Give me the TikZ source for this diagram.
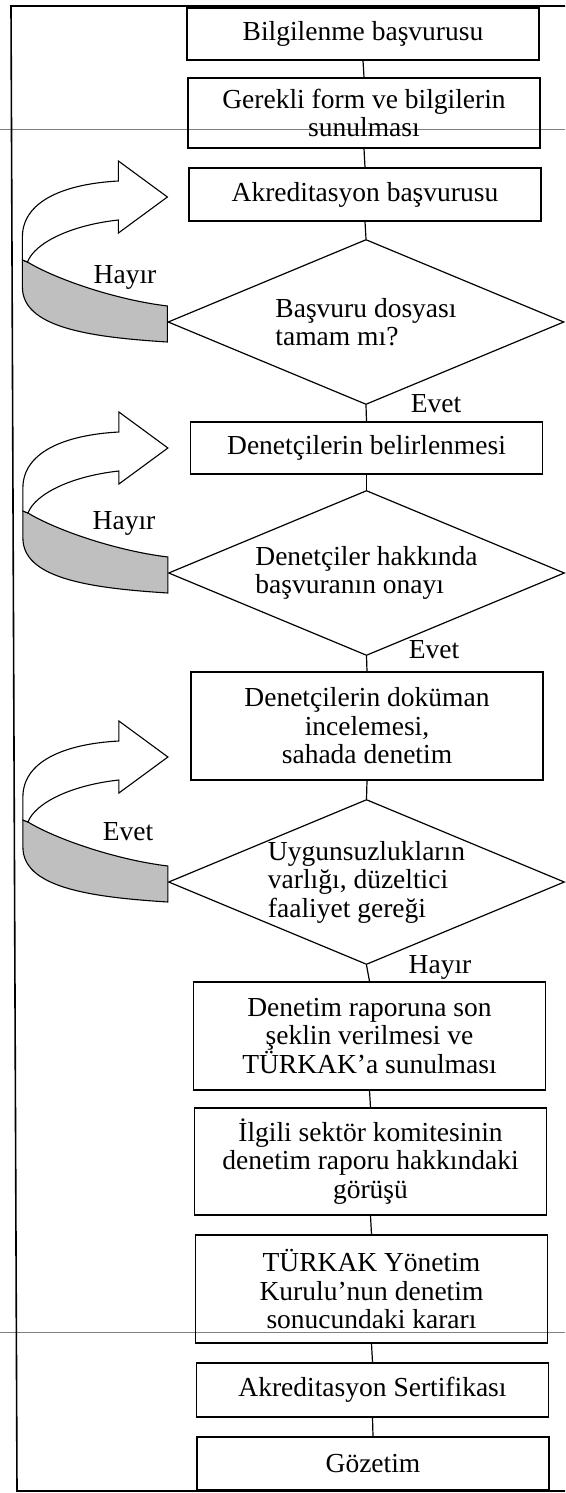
\documentclass[tikz,border=0pt]{standalone}
\usepackage{fontspec}
\setmainfont{Liberation Serif}
\usetikzlibrary{shapes.geometric}

\tikzset{
  stepbox/.style={draw, line width=1.4pt, minimum width=352pt, align=center, inner sep=0pt},
  decision/.style={draw, diamond, line width=1.2pt, aspect=2.4, minimum width=396pt,
                   minimum height=165pt, inner sep=0pt, align=left},
  link/.style={line width=1.2pt},
  uturnfront/.style={draw, line width=1.1pt, fill=white},
  uturnback/.style={draw, line width=1.1pt, fill=black!25},
}

% curved arrow going back up, its tail sits on the west corner of a diamond
\newcommand{\uturn}[1]{%
  \begin{scope}[shift={(#1)}]
    \path[uturnback] (-140,-60) .. controls (-110,-42) and (-50,-22) .. (0,-16) -- (0,20)
      .. controls (-80,15) and (-145,5) .. (-145,-35) -- (-145,-62) -- cycle;
    \path[uturnfront] (-145,-62) -- (-145,-85) .. controls (-145,-120) and (-105,-138) .. (-49,-141)
      -- (-49,-161) -- (0,-125) -- (-49,-89) -- (-49,-102)
      .. controls (-95,-97) and (-132,-80) .. (-140,-60) -- cycle;
  \end{scope}}

\begin{document}
\begin{tikzpicture}[x=1pt, y=-1pt, font=\fontsize{27.5}{28.5}\selectfont]
  \useasboundingbox (0,0) rectangle (565,1493);

  % page frame and scan lines
  \draw[gray, line width=0.8pt] (0,129) -- (565,129);
  \draw[gray, line width=0.8pt] (0,1332) -- (565,1332);
  \draw[line width=1.6pt] (565,6) -- (11,6) -- (17,1491) -- (565,1491);

  % Steps
  \node[stepbox, minimum height=52pt] (b1) at (363,34) {Bilgilenme başvurusu};
  \node[stepbox, minimum height=70pt] (b2) at (364,113) {Gerekli form ve bilgilerin\\ sunulması};
  \node[stepbox, minimum height=53pt] (b3) at (365,194.5) {Akreditasyon başvurusu};
  \node[decision] (d1) at (366,322) {Başvuru dosyası\\ tamam mı?};
  \node[stepbox, minimum height=52pt] (b4) at (366.5,448) {Denetçilerin belirlenmesi};
  \node[decision] (d2) at (366.5,573) {Denetçiler hakkında\\ başvuranın onayı};
  \node[stepbox, minimum height=108pt] (b5) at (367,726) {Denetçilerin doküman\\ incelemesi,\\ sahada denetim};
  \node[decision] (d3) at (366.5,882) {Uygunsuzlukların\\ varlığı, düzeltici\\ faaliyet gereği};
  \node[stepbox, minimum height=108pt] (b6) at (369.5,1036) {Denetim raporuna son\\ şeklin verilmesi ve\\ TÜRKAK’a sunulması};
  \node[stepbox, minimum height=107pt] (b7) at (370.5,1161.5) {İlgili sektör komitesinin\\ denetim raporu hakkındaki\\ görüşü};
  \node[stepbox, minimum height=108pt] (b8) at (371.5,1289) {TÜRKAK Yönetim\\ Kurulu’nun denetim\\ sonucundaki kararı};
  \node[stepbox, minimum height=54pt] (b9) at (372.5,1390) {Akreditasyon Sertifikası};
  \node[stepbox, minimum height=53pt] (b10) at (373,1463.5) {Gözetim};

  % Links
  \draw[link] (b1.south) -- (b2.north);
  \draw[link] (b2.south) -- (b3.north);
  \draw[link] (b3.south) -- (d1.north);
  \draw[link] (d1.south) -- (b4.north);
  \draw[link] (b4.south) -- (d2.north);
  \draw[link] (d2.south) -- (b5.north);
  \draw[link] (b5.south) -- (d3.north);
  \draw[link] (d3.south) -- (b6.north);
  \draw[link] (b6.south) -- (b7.north);
  \draw[link] (b7.south) -- (b8.north);
  \draw[link] (b8.south) -- (b9.north);
  \draw[link] (b9.south) -- (b10.north);

  % Loops back
  \uturn{d1.west}
  \uturn{d2.west}
  \uturn{d3.west}

  % Answers
  \node (a1) at (436,404) {Evet};
  \node (a2) at (434,650) {Evet};
  \node (a3) at (440,967) {Hayır};
  \node (r1) at (125,277) {Hayır};
  \node (r2) at (124,523) {Hayır};
  \node (r3) at (128,832) {Evet};
\end{tikzpicture}
\end{document}
